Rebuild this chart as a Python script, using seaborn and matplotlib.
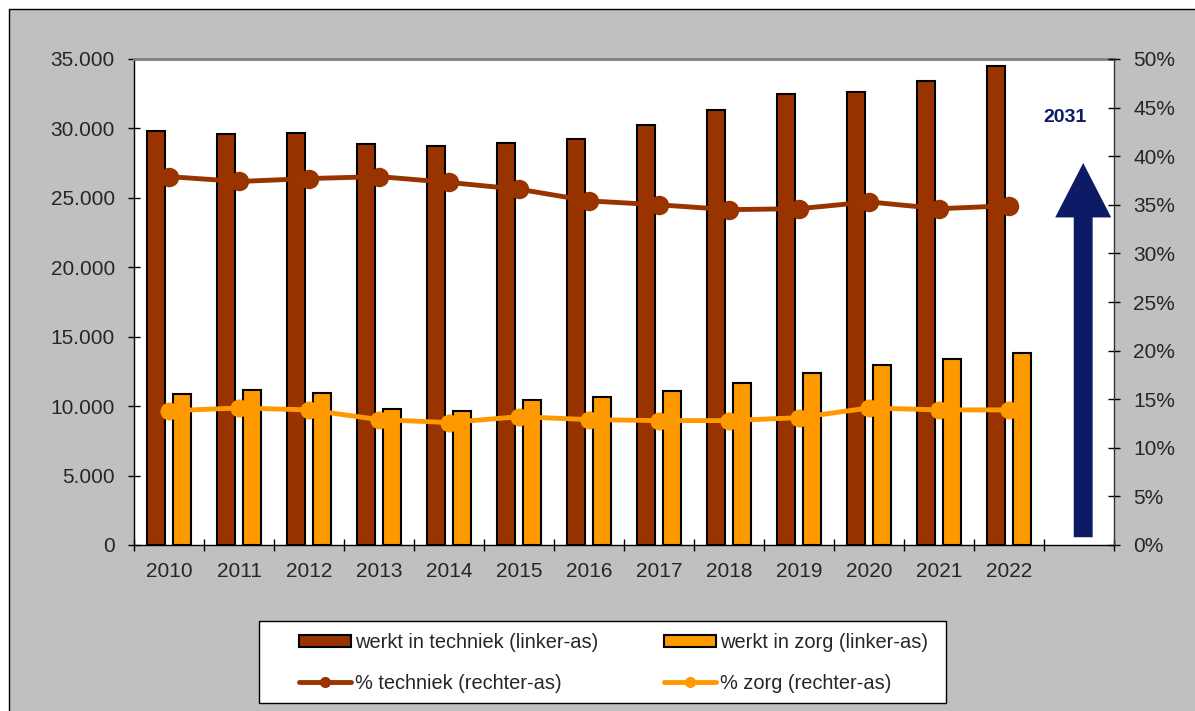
import numpy as np
import pandas as pd
import matplotlib
matplotlib.use("Agg")
import matplotlib.pyplot as plt
from matplotlib.patches import Rectangle, Patch, FancyArrow
from matplotlib.lines import Line2D
from matplotlib.ticker import FuncFormatter, MultipleLocator
import seaborn as sns

# ---- data ----
years = ["2010", "2011", "2012", "2013", "2014", "2015", "2016",
         "2017", "2018", "2019", "2020", "2021", "2022"]
techniek = [29850, 29600, 29680, 28870, 28720, 28950, 29250,
            30250, 31330, 32480, 32620, 33410, 34500]
zorg = [10870, 11140, 10950, 9790, 9670, 10420, 10660,
        11070, 11640, 12360, 12960, 13370, 13830]
pct_techniek = [37.9, 37.4, 37.7, 37.9, 37.3, 36.6, 35.4,
                35.0, 34.5, 34.6, 35.3, 34.6, 34.9]
pct_zorg = [13.8, 14.1, 13.9, 12.9, 12.6, 13.2, 12.9,
            12.8, 12.8, 13.1, 14.1, 13.9, 13.9]
arrow_label = "2031"
series_names = ["werkt in techniek (linker-as)", "werkt in zorg (linker-as)"]
line_names = ["% techniek (rechter-as)", "% zorg (rechter-as)"]

C_TECH = "#993300"
C_ZORG = "#FF9900"
C_NAVY = "#0D1A66"
C_GRAY = "#C0C0C0"

sns.set_style("ticks")
plt.rcParams["font.family"] = ["Liberation Sans", "DejaVu Sans"]

W, H = 1195, 711
fig = plt.figure(figsize=(W / 100, H / 100), dpi=100, facecolor="white")

# outer chart area (gray with black border on left/top)
fig.patches.append(Rectangle((9 / W, -0.2), 1.3, 1.2 - 9 / H,
                             transform=fig.transFigure, facecolor=C_GRAY,
                             edgecolor="none", zorder=-10))
fig.add_artist(Line2D([9 / W, 9 / W], [0, 1 - 9 / H], transform=fig.transFigure,
                      color="black", linewidth=1.0))
fig.add_artist(Line2D([9 / W, 1.0], [1 - 9 / H, 1 - 9 / H], transform=fig.transFigure,
                      color="black", linewidth=1.0))

ax1 = fig.add_axes([134 / W, 1 - 545 / H, 980 / W, 486 / H])
ax1.set_facecolor("white")

df = pd.DataFrame({
    "year": years * 2,
    "serie": [series_names[0]] * len(years) + [series_names[1]] * len(years),
    "waarde": techniek + zorg,
})
sns.barplot(data=df, x="year", y="waarde", hue="serie", order=years,
            hue_order=series_names,
            palette={series_names[0]: C_TECH, series_names[1]: C_ZORG},
            width=0.74, gap=0.3, edgecolor="black", linewidth=1.5,
            saturation=1, legend=False, ax=ax1, zorder=2)

ax1.set_xlim(-0.5, 13.5)
ax1.set_ylim(0, 35000)
ax1.yaxis.set_major_locator(MultipleLocator(5000))
ax1.yaxis.set_major_formatter(FuncFormatter(lambda v, p: f"{int(v):,}".replace(",", ".")))
ax1.set_xlabel("")
ax1.set_ylabel("")

ax1.set_xticks(np.arange(-0.5, 14, 1))
ax1.set_xticklabels([])
ax1.set_xticks(np.arange(len(years)), minor=True)
ax1.set_xticklabels(years, minor=True)
ax1.tick_params(axis="x", which="major", direction="inout", length=8.5,
                width=1, color="black")
ax1.tick_params(axis="x", which="minor", length=0, pad=12.5, labelsize=15)
ax1.tick_params(axis="y", direction="inout", length=8.5, width=1,
                color="black", pad=9.5, labelsize=15)

for s in ["left", "bottom"]:
    ax1.spines[s].set_color("black")
    ax1.spines[s].set_linewidth(1.0)
ax1.spines["top"].set_visible(True)
ax1.spines["top"].set_color("#808080")
ax1.spines["top"].set_linewidth(2.0)
ax1.spines["right"].set_visible(False)

# ---- right axis ----
ax2 = ax1.twinx()
xpos = np.arange(len(years))
sns.lineplot(x=xpos, y=pct_techniek, ax=ax2, color=C_TECH, linewidth=3.5,
             marker="o", markersize=14, markeredgewidth=0, estimator=None,
             zorder=5)
sns.lineplot(x=xpos, y=pct_zorg, ax=ax2, color=C_ZORG, linewidth=3.5,
             marker="o", markersize=13, markeredgewidth=0, estimator=None,
             zorder=5)
ax2.set_ylim(0, 50)
ax2.set_xlim(-0.5, 13.5)
ax2.yaxis.set_major_locator(MultipleLocator(5))
ax2.yaxis.set_major_formatter(FuncFormatter(lambda v, p: f"{int(round(v))}%"))
ax2.tick_params(axis="y", direction="inout", length=8.5, width=1,
                color="black", pad=9.5, labelsize=15)
ax2.set_ylabel("")
for s in ["left", "top", "bottom"]:
    ax2.spines[s].set_visible(False)
ax2.spines["right"].set_color("#333333")
ax2.spines["right"].set_linewidth(1.0)

# arrow toward 2031
ax2.add_patch(FancyArrow(13.06, 0.8, 0, 38.5, width=0.27, head_width=0.8,
                         head_length=5.6, length_includes_head=True,
                         facecolor=C_NAVY, edgecolor="none", zorder=6))
ax2.text(12.8, 44.0, arrow_label, color=C_NAVY, fontsize=14,
         fontweight="bold", ha="center", va="center")

# ---- legend ----
fig.patches.append(Rectangle((259 / W, 1 - 703 / H), 687 / W, 82 / H,
                             transform=fig.transFigure, facecolor="white",
                             edgecolor="black", linewidth=1.0, zorder=-5))
handles = [
    Patch(facecolor=C_TECH, edgecolor="black", linewidth=1.5),
    Line2D([0], [0], color=C_TECH, linewidth=3.5, marker="o", markersize=8,
           markeredgewidth=0),
    Patch(facecolor=C_ZORG, edgecolor="black", linewidth=1.5),
    Line2D([0], [0], color=C_ZORG, linewidth=3.5, marker="o", markersize=8,
           markeredgewidth=0),
]
labels = [series_names[0], line_names[0], series_names[1], line_names[1]]
fig.legend(handles, labels, loc="upper left",
           bbox_to_anchor=(299 / W, 1 - 633 / H), ncol=2, frameon=False,
           fontsize=14.4, handlelength=2.6, handleheight=0.55,
           handletextpad=0.2, columnspacing=3.3, labelspacing=1.1,
           borderpad=0, borderaxespad=0)

fig.savefig("out.png", dpi=100, facecolor=fig.get_facecolor())
